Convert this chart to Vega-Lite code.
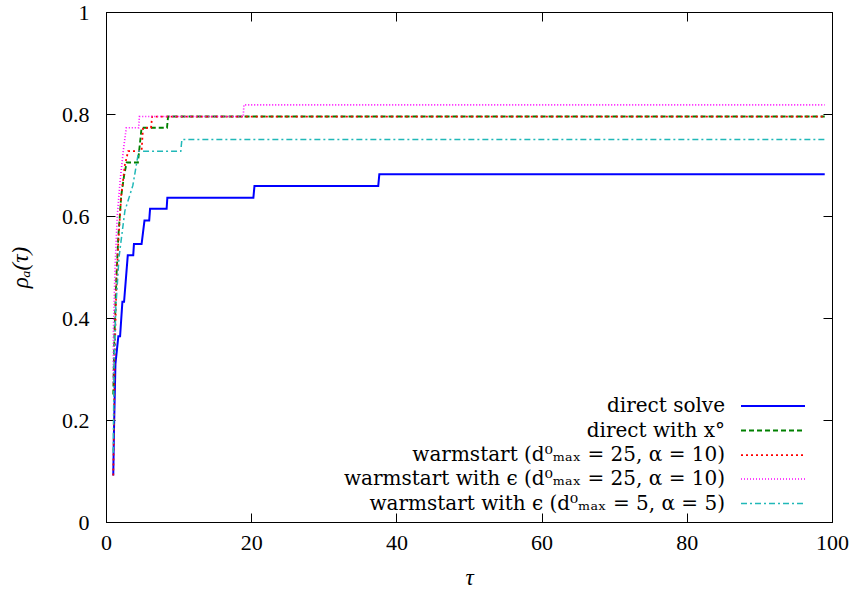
{
  "$schema": "https://vega.github.io/schema/vega-lite/v6.json",
  "width": 726,
  "height": 510,
  "autosize": {"type": "none"},
  "padding": {"left": 106, "top": 12, "right": 19, "bottom": 72},
  "background": "white",
  "config": {
    "view": {"stroke": "black", "strokeWidth": 1},
    "font": "Liberation Serif",
    "axis": {
      "grid": false,
      "domainColor": "black",
      "tickColor": "black",
      "labelColor": "black",
      "titleColor": "black",
      "labelFont": "Liberation Serif",
      "titleFont": "Liberation Serif",
      "labelFontSize": 22,
      "titleFontSize": 23,
      "titleFontWeight": "normal",
      "titleFontStyle": "italic",
      "labelFlush": false,
      "tickSize": 9
    },
    "legend": {
      "labelFont": "DejaVu Serif",
      "labelFontSize": 20,
      "labelColor": "black"
    }
  },
  "data": {
    "values": [
      {"series": "direct solve", "tau": 1, "rho": 0.091},
      {"series": "direct solve", "tau": 1.1, "rho": 0.18},
      {"series": "direct solve", "tau": 1.3, "rho": 0.31},
      {"series": "direct solve", "tau": 1.7, "rho": 0.364},
      {"series": "direct solve", "tau": 1.94, "rho": 0.364},
      {"series": "direct solve", "tau": 2.26, "rho": 0.432},
      {"series": "direct solve", "tau": 2.49, "rho": 0.432},
      {"series": "direct solve", "tau": 3.0, "rho": 0.523},
      {"series": "direct solve", "tau": 3.75, "rho": 0.523},
      {"series": "direct solve", "tau": 3.85, "rho": 0.545},
      {"series": "direct solve", "tau": 4.9, "rho": 0.545},
      {"series": "direct solve", "tau": 5.3, "rho": 0.591},
      {"series": "direct solve", "tau": 5.95, "rho": 0.591},
      {"series": "direct solve", "tau": 6.07, "rho": 0.614},
      {"series": "direct solve", "tau": 8.35, "rho": 0.614},
      {"series": "direct solve", "tau": 8.45, "rho": 0.636},
      {"series": "direct solve", "tau": 20.3, "rho": 0.636},
      {"series": "direct solve", "tau": 20.45, "rho": 0.659},
      {"series": "direct solve", "tau": 37.5, "rho": 0.659},
      {"series": "direct solve", "tau": 37.65, "rho": 0.682},
      {"series": "direct solve", "tau": 99, "rho": 0.682},

      {"series": "direct with x°", "tau": 1, "rho": 0.25},
      {"series": "direct with x°", "tau": 1.15, "rho": 0.36},
      {"series": "direct with x°", "tau": 1.4, "rho": 0.47},
      {"series": "direct with x°", "tau": 1.7, "rho": 0.56},
      {"series": "direct with x°", "tau": 2.1, "rho": 0.64},
      {"series": "direct with x°", "tau": 2.5, "rho": 0.68},
      {"series": "direct with x°", "tau": 2.85, "rho": 0.705},
      {"series": "direct with x°", "tau": 4.4, "rho": 0.705},
      {"series": "direct with x°", "tau": 4.9, "rho": 0.773},
      {"series": "direct with x°", "tau": 8.4, "rho": 0.773},
      {"series": "direct with x°", "tau": 8.55, "rho": 0.795},
      {"series": "direct with x°", "tau": 99, "rho": 0.795},

      {"series": "warmstart  (d⁰ₘₐₓ = 25, α = 10)", "tau": 1, "rho": 0.091},
      {"series": "warmstart  (d⁰ₘₐₓ = 25, α = 10)", "tau": 1.1, "rho": 0.2},
      {"series": "warmstart  (d⁰ₘₐₓ = 25, α = 10)", "tau": 1.2, "rho": 0.32},
      {"series": "warmstart  (d⁰ₘₐₓ = 25, α = 10)", "tau": 1.4, "rho": 0.45},
      {"series": "warmstart  (d⁰ₘₐₓ = 25, α = 10)", "tau": 1.7, "rho": 0.55},
      {"series": "warmstart  (d⁰ₘₐₓ = 25, α = 10)", "tau": 2.1, "rho": 0.64},
      {"series": "warmstart  (d⁰ₘₐₓ = 25, α = 10)", "tau": 2.6, "rho": 0.7},
      {"series": "warmstart  (d⁰ₘₐₓ = 25, α = 10)", "tau": 3.05, "rho": 0.727},
      {"series": "warmstart  (d⁰ₘₐₓ = 25, α = 10)", "tau": 4.9, "rho": 0.727},
      {"series": "warmstart  (d⁰ₘₐₓ = 25, α = 10)", "tau": 5.1, "rho": 0.773},
      {"series": "warmstart  (d⁰ₘₐₓ = 25, α = 10)", "tau": 6.2, "rho": 0.773},
      {"series": "warmstart  (d⁰ₘₐₓ = 25, α = 10)", "tau": 6.35, "rho": 0.795},
      {"series": "warmstart  (d⁰ₘₐₓ = 25, α = 10)", "tau": 99, "rho": 0.795},

      {"series": "warmstart with ϵ (d⁰ₘₐₓ = 25, α = 10)", "tau": 1, "rho": 0.273},
      {"series": "warmstart with ϵ (d⁰ₘₐₓ = 25, α = 10)", "tau": 1.03, "rho": 0.38},
      {"series": "warmstart with ϵ (d⁰ₘₐₓ = 25, α = 10)", "tau": 1.25, "rho": 0.5},
      {"series": "warmstart with ϵ (d⁰ₘₐₓ = 25, α = 10)", "tau": 1.55, "rho": 0.6},
      {"series": "warmstart with ϵ (d⁰ₘₐₓ = 25, α = 10)", "tau": 1.95, "rho": 0.67},
      {"series": "warmstart with ϵ (d⁰ₘₐₓ = 25, α = 10)", "tau": 2.4, "rho": 0.73},
      {"series": "warmstart with ϵ (d⁰ₘₐₓ = 25, α = 10)", "tau": 2.8, "rho": 0.773},
      {"series": "warmstart with ϵ (d⁰ₘₐₓ = 25, α = 10)", "tau": 4.5, "rho": 0.773},
      {"series": "warmstart with ϵ (d⁰ₘₐₓ = 25, α = 10)", "tau": 4.6, "rho": 0.795},
      {"series": "warmstart with ϵ (d⁰ₘₐₓ = 25, α = 10)", "tau": 18.9, "rho": 0.795},
      {"series": "warmstart with ϵ (d⁰ₘₐₓ = 25, α = 10)", "tau": 19.0, "rho": 0.818},
      {"series": "warmstart with ϵ (d⁰ₘₐₓ = 25, α = 10)", "tau": 99, "rho": 0.818},

      {"series": "warmstart with ϵ (d⁰ₘₐₓ = 5, α = 5)", "tau": 1, "rho": 0.136},
      {"series": "warmstart with ϵ (d⁰ₘₐₓ = 5, α = 5)", "tau": 1.1, "rho": 0.3},
      {"series": "warmstart with ϵ (d⁰ₘₐₓ = 5, α = 5)", "tau": 1.35, "rho": 0.42},
      {"series": "warmstart with ϵ (d⁰ₘₐₓ = 5, α = 5)", "tau": 1.8, "rho": 0.52},
      {"series": "warmstart with ϵ (d⁰ₘₐₓ = 5, α = 5)", "tau": 2.6, "rho": 0.61},
      {"series": "warmstart with ϵ (d⁰ₘₐₓ = 5, α = 5)", "tau": 3.7, "rho": 0.66},
      {"series": "warmstart with ϵ (d⁰ₘₐₓ = 5, α = 5)", "tau": 4.5, "rho": 0.727},
      {"series": "warmstart with ϵ (d⁰ₘₐₓ = 5, α = 5)", "tau": 10.3, "rho": 0.727},
      {"series": "warmstart with ϵ (d⁰ₘₐₓ = 5, α = 5)", "tau": 10.45, "rho": 0.75},
      {"series": "warmstart with ϵ (d⁰ₘₐₓ = 5, α = 5)", "tau": 99, "rho": 0.75}
    ]
  },
  "layer": [
    {
      "mark": {"type": "line", "clip": true},
      "encoding": {
        "x": {
          "field": "tau", "type": "quantitative",
          "scale": {"domain": [0, 100], "nice": false},
          "axis": {"orient": "bottom", "values": [0, 20, 40, 60, 80, 100], "title": "τ", "tickSize": -9, "labelPadding": 19, "titlePadding": 13}
        },
        "y": {
          "field": "rho", "type": "quantitative",
          "scale": {"domain": [0, 1], "nice": false},
          "axis": {"orient": "left", "values": [0, 0.2, 0.4, 0.6, 0.8, 1], "format": "~g", "title": "ρₐ(τ)", "tickSize": -9, "labelPadding": 26, "titlePadding": 29}
        },
        "color": {
          "field": "series", "type": "nominal",
          "scale": {
            "domain": ["direct solve", "direct with x°", "warmstart  (d⁰ₘₐₓ = 25, α = 10)", "warmstart with ϵ (d⁰ₘₐₓ = 25, α = 10)", "warmstart with ϵ (d⁰ₘₐₓ = 5, α = 5)"],
            "range": ["#0000ff", "#008000", "#ff0000", "#ff00ff", "#20b8b8"]
          },
          "legend": {"title": null, "orient": "none", "legendX": 655, "legendY": 382, "symbolType": "M-3,0H3", "symbolSize": 455, "symbolStrokeWidth": 1.5, "labelAlign": "right", "labelOffset": -60, "labelLimit": 0, "rowPadding": 2.5, "padding": 0}
        },
        "strokeDash": {
          "field": "series", "type": "nominal",
          "scale": {
            "domain": ["direct solve", "direct with x°", "warmstart  (d⁰ₘₐₓ = 25, α = 10)", "warmstart with ϵ (d⁰ₘₐₓ = 25, α = 10)", "warmstart with ϵ (d⁰ₘₐₓ = 5, α = 5)"],
            "range": [[1, 0], [5, 3], [2, 3], [1, 2], [6, 3, 2, 3]]
          },
          "legend": {"title": null, "orient": "none", "legendX": 655, "legendY": 382, "symbolType": "M-3,0H3", "symbolSize": 455, "symbolStrokeWidth": 1.5, "labelAlign": "right", "labelOffset": -60, "labelLimit": 0, "rowPadding": 2.5, "padding": 0}
        },
        "strokeWidth": {
          "field": "series", "type": "nominal",
          "scale": {
            "domain": ["direct solve", "direct with x°", "warmstart  (d⁰ₘₐₓ = 25, α = 10)", "warmstart with ϵ (d⁰ₘₐₓ = 25, α = 10)", "warmstart with ϵ (d⁰ₘₐₓ = 5, α = 5)"],
            "range": [2, 1.5, 1.5, 1.5, 1.5]
          },
          "legend": null
        }
      }
    },
    {
      "mark": {"type": "line", "opacity": 0},
      "encoding": {
        "x": {
          "field": "tau", "type": "quantitative",
          "axis": {"orient": "top", "values": [0, 20, 40, 60, 80, 100], "labels": false, "title": null, "tickSize": -9}
        },
        "y": {
          "field": "rho", "type": "quantitative",
          "axis": {"orient": "right", "values": [0, 0.2, 0.4, 0.6, 0.8, 1], "labels": false, "title": null, "tickSize": -9}
        },
        "detail": {"field": "series"}
      }
    }
  ],
  "resolve": {"axis": {"x": "independent", "y": "independent"}}
}
